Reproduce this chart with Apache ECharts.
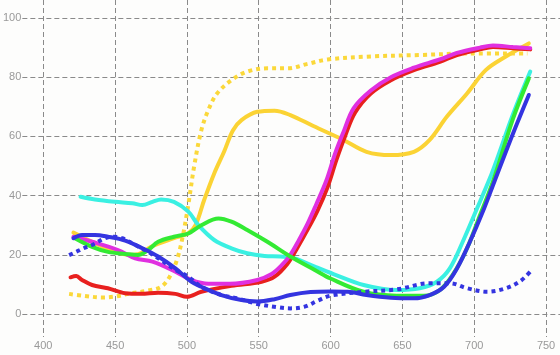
<!DOCTYPE html>
<html>
<head>
  <meta charset="UTF-8" />
  <title>Spectres</title>
  <style>
    html, body { margin: 0; padding: 0; background: #fdfdfc; }
    #chart { width: 560px; height: 355px; }
  </style>
</head>
<body>
  <div id="chart"></div>
  <script src="https://cdn.jsdelivr.net/npm/echarts@6.0.0/dist/echarts.min.js"></script>
  <script>
    // tick labels
    var xTicks = [400, 450, 500, 550, 600, 650, 700, 750];
    var yTicks = [0, 20, 40, 60, 80, 100];

    // [wavelength, value]
    var yellowDotted = [[418,6.8],[429,6.1],[441,5.6],[450,5.9],[461,7],[473,7.9],[482,9.2],[488,12.6],[493,18.2],[497,26],[501,37],[505,49.8],[510,62],[515,69],[521,74.5],[531,79],[542,81.9],[556,83],[570,83],[584,84.5],[598,86],[628,87],[662,87.5],[697,88],[737,88]];
    var yellow = [[421,27.5],[429,25.6],[445,22],[460,20],[466,20.2],[475,22.7],[491,25.6],[501,27.3],[506,30],[512,38.5],[519,47.5],[526,55],[532,62],[538,65.5],[549,68.3],[561,68.7],[572,67.2],[588,63.5],[609,58.8],[625,54.8],[642,53.7],[658,54.8],[669,58.8],[681,66.7],[695,74.5],[708,82.4],[722,87],[738,91.4]];
    var cyan = [[426,39.6],[436,38.7],[450,37.9],[462,37.4],[469,36.8],[476,37.9],[482,38.7],[491,37.9],[501,34.6],[508,30],[519,25],[531,22.2],[542,20.5],[554,19.6],[565,19.4],[575,18.8],[589,16],[602,13.5],[623,9.8],[646,8.1],[662,8.7],[674,10.9],[683,15.4],[692,24.4],[702,35.7],[711,46],[716,52.5],[727,67.5],[739,81.9]];
    var red = [[419,12.4],[423,12.8],[427,11.5],[434,9.8],[445,8.7],[457,7],[468,6.8],[480,7.2],[492,6.8],[500,5.8],[510,7.5],[531,9.5],[552,10.9],[561,12.6],[570,17],[577,22.5],[584,28.5],[591,35],[598,43],[604,52],[610,60],[617,68],[628,74.5],[642,79],[658,82.4],[676,85.2],[688,87.5],[704,89.4],[713,90.2],[727,89.8],[739,89.4]];
    var magenta = [[421,26.1],[434,24.4],[452,21.6],[464,18.8],[476,17.7],[492,14.3],[503,11.5],[515,10.2],[530,10.2],[549,11.5],[559,13.5],[566,16.5],[572,20],[578,25],[584,30.5],[590,37],[597,45],[603,54],[609,61.5],[616,69.5],[628,75.5],[642,80],[658,83.2],[676,86],[688,88.2],[704,90],[713,90.7],[727,90.2],[739,89.8]];
    var green = [[422,25.6],[434,22.7],[445,21],[457,20.3],[466,19.9],[473,21.6],[480,24.4],[491,26.1],[501,27.2],[510,30],[522,32.3],[531,31.2],[542,28.4],[556,24.4],[572,19.4],[589,14.9],[600,12],[623,7.5],[646,6.2],[665,6.2],[676,8.1],[685,13.2],[695,22.2],[704,33.4],[713,44.7],[727,66],[738,79.6]];
    var blueDotted = [[418,19.9],[423,21],[428,22.2],[434,23.3],[443,25.6],[449,26.1],[455,25.6],[464,23.3],[473,21],[482,18.2],[492,14.9],[501,12.6],[510,9.2],[524,6.4],[535,5.3],[549,3.4],[563,2.3],[572,1.9],[582,2.5],[591,4.5],[600,6.2],[623,7.5],[646,8.3],[669,10.4],[683,10.4],[695,8.7],[709,7.5],[722,8.7],[732,11.1],[739,14.3]];
    var blue = [[421,25.6],[427,26.7],[436,26.7],[445,26.1],[457,24.8],[469,22.2],[480,19.4],[492,15.4],[503,10.9],[510,9.2],[524,6.4],[538,4.7],[549,4.2],[561,5],[572,6.4],[586,7.4],[600,7.6],[612,7.5],[625,6.4],[642,5.5],[658,5.3],[669,6.4],[679,9.2],[688,15.4],[697,24.4],[706,34.6],[714,44.7],[727,61],[738,74]];

    function line(data, color, dotted) {
      return {
        type: 'line',
        data: data,
        smooth: 0.35,
        showSymbol: false,
        lineStyle: {
          color: color,
          width: 4,
          type: dotted ? [4, 4] : 'solid',
          cap: dotted ? 'butt' : 'round'
        }
      };
    }

    var myChart = echarts.init(document.getElementById('chart'));
    var option = {
      animation: false,
      backgroundColor: '#fdfdfc',
      grid: { left: 20, right: 0, top: 0, bottom: 18 },
      xAxis: {
        type: 'value',
        min: 385.45,
        max: 759.7,
        axisLine: { show: false },
        axisTick: { show: false, customValues: xTicks },
        axisLabel: {
          customValues: xTicks,
          color: '#999',
          fontFamily: 'Liberation Sans',
          fontSize: 11,
          margin: 3
        },
        splitLine: { show: true, lineStyle: { color: '#8a8a8a', type: [5, 3], width: 1 } }
      },
      yAxis: {
        type: 'value',
        min: -7.77,
        max: 106.08,
        axisLine: { show: false },
        axisTick: { show: false, customValues: yTicks },
        axisLabel: {
          customValues: yTicks,
          color: '#999',
          fontFamily: 'Liberation Sans',
          fontSize: 11,
          margin: 1
        },
        splitLine: { show: true, lineStyle: { color: '#8a8a8a', type: [5, 3], width: 1 } }
      },
      series: [
        line(yellowDotted, '#fbd83a', true),
        line(yellow, '#fbd334', false),
        line(cyan, '#3af0e2', false),
        line(red, '#e8201e', false),
        line(magenta, '#e030e0', false),
        line(green, '#33ea33', false),
        line(blueDotted, '#3434e0', true),
        line(blue, '#3434e0', false)
      ]
    };
    myChart.setOption(option);
  </script>
</body>
</html>
